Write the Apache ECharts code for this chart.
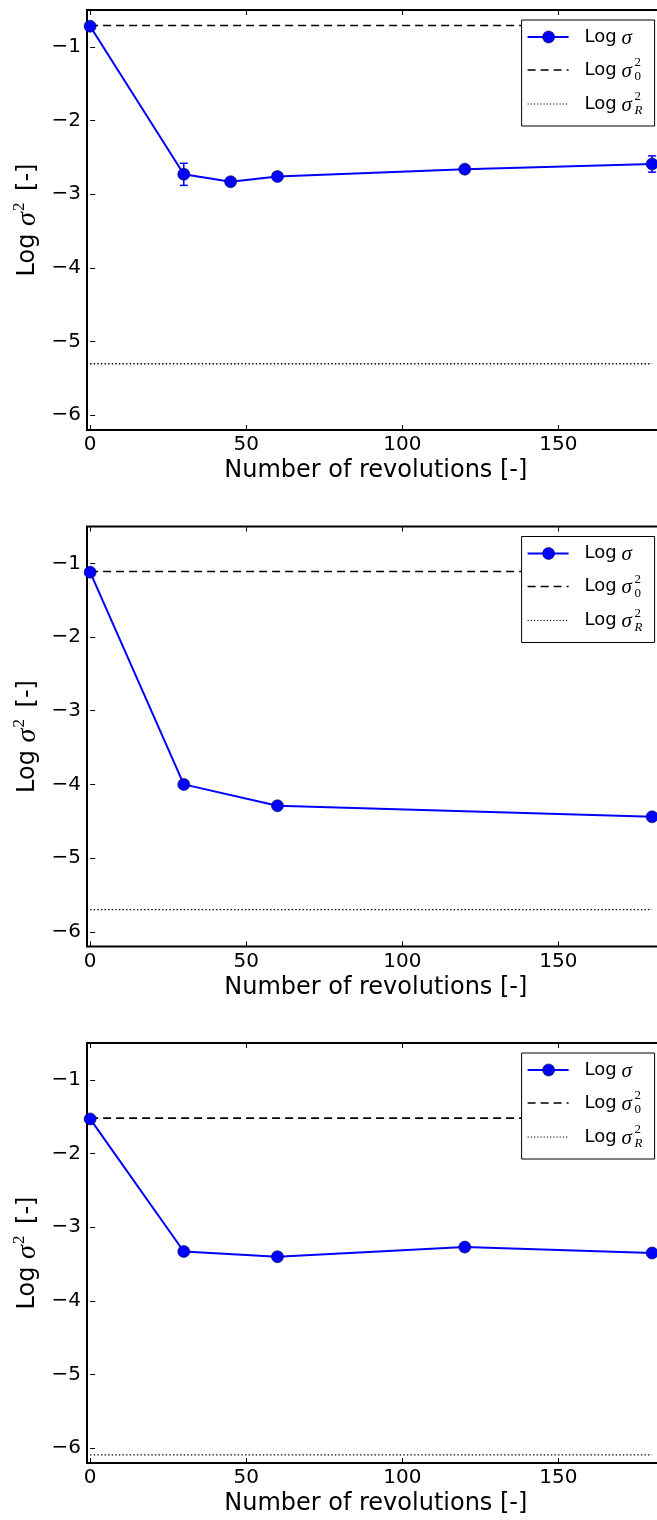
<!DOCTYPE html>
<html>
<head>
<meta charset="utf-8">
<script src="https://cdn.jsdelivr.net/npm/echarts@6/dist/echarts.min.js"></script>
<style>
  html, body { margin: 0; padding: 0; background: #fff; overflow: hidden; }
  #chart { width: 700px; height: 1520px; }
</style>
</head>
<body>
<div id="chart"></div>
<script>
// Number of revolutions at which each sample was taken
const revs1 = [0, 30, 45, 60, 120, 180];
const revs2 = [0, 30, 60, 180];
const revs3 = [0, 30, 60, 120, 180];

// Log of the measured variance, with error-bar half widths
const logSigma1 = [-0.72, -2.73, -2.83, -2.76, -2.66, -2.59];
const errSigma1 = [0, 0.15, 0, 0, 0, 0.11];
const logSigma2 = [-1.12, -4.00, -4.29, -4.44];
const errSigma2 = [0, 0, 0, 0];
const logSigma3 = [-1.53, -3.33, -3.40, -3.27, -3.35];
const errSigma3 = [0, 0, 0, 0, 0];

// Reference levels: initial variance and random-mixture variance
const logSigma0 = [-0.71, -1.11, -1.52];
const logSigmaR = [-5.30, -5.70, -6.09];

// Axis ticks
const xTicks = [0, 50, 100, 150];
const yTicks = [-6, -5, -4, -3, -2, -1];

const X_MIN = -1, X_MAX = 184, Y_MIN = -6.2, Y_MAX = -0.5;
const REF_X = [0, 180];

const panels = [
  { top: 10, revs: revs1, vals: logSigma1, errs: errSigma1 },
  { top: 526.5, revs: revs2, vals: logSigma2, errs: errSigma2 },
  { top: 1043, revs: revs3, vals: logSigma3, errs: errSigma3 }
];

const GRID_LEFT = 87, GRID_W = 577.6, GRID_H = 420;
const BLUE = '#0000ff';
const FONT = 'DejaVu Sans';

const minus = v => (v < 0 ? '\u2212' + Math.abs(v) : String(v));

const chart = echarts.init(document.getElementById('chart'), null, { renderer: 'canvas' });

const grid = [], xAxis = [], yAxis = [], series = [], graphic = [];

panels.forEach((p, i) => {
  grid.push({
    left: GRID_LEFT, top: p.top, width: GRID_W, height: GRID_H,
    outerBoundsMode: 'none', containLabel: false,
    show: true, borderColor: '#000', borderWidth: 2, backgroundColor: 'transparent'
  });
  const tickStyle = { show: true, inside: true, length: 5, lineStyle: { color: '#000', width: 1 } };
  xAxis.push({
    type: 'value', gridIndex: i, min: X_MIN, max: X_MAX, position: 'bottom',
    axisLine: { show: false }, splitLine: { show: false },
    axisTick: Object.assign({ customValues: xTicks }, tickStyle),
    axisLabel: { customValues: xTicks, formatter: minus, color: '#000', fontSize: 20, fontFamily: FONT, margin: 5 },
    name: 'Number of revolutions [-]', nameLocation: 'middle', nameGap: 29, nameMoveOverlap: false,
    nameTextStyle: { color: '#000', fontSize: 24, fontFamily: FONT }
  });
  xAxis.push({
    type: 'value', gridIndex: i, min: X_MIN, max: X_MAX, position: 'top',
    axisLine: { show: false }, splitLine: { show: false },
    axisTick: Object.assign({ customValues: xTicks }, tickStyle),
    axisLabel: { show: false }
  });
  yAxis.push({
    type: 'value', gridIndex: i, min: Y_MIN, max: Y_MAX,
    axisLine: { show: false }, splitLine: { show: false },
    axisTick: Object.assign({ customValues: yTicks }, tickStyle),
    axisLabel: { customValues: yTicks, formatter: minus, color: '#000', fontSize: 20, fontFamily: FONT, margin: 6 },
    name: '{t|Log }{s|σ}{p|2}{t| [-]}', nameLocation: 'middle', nameRotate: 90, nameGap: 43, nameMoveOverlap: false,
    nameTextStyle: {
      color: '#000',
      rich: {
        t: { fontSize: 24, fontFamily: FONT, color: '#000' },
        s: { fontSize: 28, fontFamily: 'Liberation Serif', fontStyle: 'italic', color: '#000' },
        p: { fontSize: 17, fontFamily: 'Liberation Serif', color: '#000', padding: [0, 4, 16, 1] }
      }
    }
  });

  series.push({
    name: 'Log σ', type: 'line', xAxisIndex: i * 2, yAxisIndex: i,
    data: p.revs.map((r, k) => [r, p.vals[k]]),
    symbol: 'circle', symbolSize: 12,
    lineStyle: { color: BLUE, width: 2 },
    itemStyle: { color: BLUE, borderColor: '#000044', borderWidth: 0.6 },
    z: 5, clip: true
  });
  series.push({
    name: 'Log σ0', type: 'line', xAxisIndex: i * 2, yAxisIndex: i,
    data: REF_X.map(x => [x, logSigma0[i]]), symbol: 'none',
    lineStyle: { color: '#000', width: 1.6, type: [8, 5] }, z: 3
  });
  series.push({
    name: 'Log σR', type: 'line', xAxisIndex: i * 2, yAxisIndex: i,
    data: REF_X.map(x => [x, logSigmaR[i]]), symbol: 'none',
    lineStyle: { color: '#000', width: 1.4, type: [1.4, 2.2] }, z: 3
  });
  const errData = p.revs.map((r, k) => [r, p.vals[k], p.errs[k]]).filter(d => d[2] > 0);
  if (errData.length) {
    series.push({
      type: 'custom', xAxisIndex: i * 2, yAxisIndex: i, data: errData, z: 4,
      renderItem: (params, api) => {
        const x = api.value(0), y = api.value(1), e = api.value(2);
        const hi = api.coord([x, y + e]), lo = api.coord([x, y - e]);
        const cap = 4;
        const st = { stroke: BLUE, lineWidth: 1.5 };
        return {
          type: 'group',
          children: [
            { type: 'line', shape: { x1: hi[0], y1: hi[1], x2: lo[0], y2: lo[1] }, style: st },
            { type: 'line', shape: { x1: hi[0] - cap, y1: hi[1], x2: hi[0] + cap, y2: hi[1] }, style: st },
            { type: 'line', shape: { x1: lo[0] - cap, y1: lo[1], x2: lo[0] + cap, y2: lo[1] }, style: st }
          ]
        };
      }
    });
  }

  // Legend box in the upper-right corner of each panel
  const LW = 133, LH = 106;
  const L = GRID_LEFT + GRID_W - 10 - LW, T = p.top + 10;
  const rows = [T + 17, T + 50, T + 84];
  const txtX = L + 63;
  const txt = { fontSize: 18, fontFamily: FONT, fill: '#000' };
  const sig = { fontSize: 21, fontFamily: 'Liberation Serif', fontStyle: 'italic', fill: '#000' };
  const small = { fontSize: 13, fontFamily: 'Liberation Serif', fill: '#000', verticalAlign: 'middle' };
  graphic.push({ type: 'rect', shape: { x: L, y: T, width: LW, height: LH }, style: { fill: '#fff', stroke: '#000', lineWidth: 1 }, z: 100 });
  graphic.push({ type: 'line', shape: { x1: L + 6, y1: rows[0], x2: L + 47, y2: rows[0] }, style: { stroke: BLUE, lineWidth: 2 }, z: 101 });
  graphic.push({ type: 'circle', shape: { cx: L + 27, cy: rows[0], r: 6 }, style: { fill: BLUE, stroke: '#000044', lineWidth: 0.6 }, z: 102 });
  graphic.push({ type: 'line', shape: { x1: L + 6, y1: rows[1], x2: L + 47, y2: rows[1] }, style: { stroke: '#000', lineWidth: 1.6, lineDash: [8, 5] }, z: 101 });
  graphic.push({ type: 'line', shape: { x1: L + 6, y1: rows[2], x2: L + 47, y2: rows[2] }, style: { stroke: '#000', lineWidth: 1.2, lineDash: [1.2, 2] }, z: 101 });
  rows.forEach((ry, r) => {
    graphic.push({ type: 'text', x: txtX, y: ry, z: 103, style: Object.assign({ text: 'Log', verticalAlign: 'middle' }, txt) });
    graphic.push({ type: 'text', x: txtX + 37, y: ry + 1, z: 103, style: Object.assign({ text: 'σ', verticalAlign: 'middle' }, sig) });
    if (r > 0) {
      graphic.push({ type: 'text', x: txtX + 50, y: ry - 7, z: 103, style: Object.assign({ text: '2' }, small) });
      graphic.push({ type: 'text', x: txtX + 50, y: ry + 7, z: 103, style: Object.assign({ text: r === 1 ? '0' : 'R', fontStyle: r === 2 ? 'italic' : 'normal' }, small) });
    }
  });
});

chart.setOption({
  animation: false,
  backgroundColor: '#fff',
  grid, xAxis, yAxis, series, graphic
});
</script>
</body>
</html>
